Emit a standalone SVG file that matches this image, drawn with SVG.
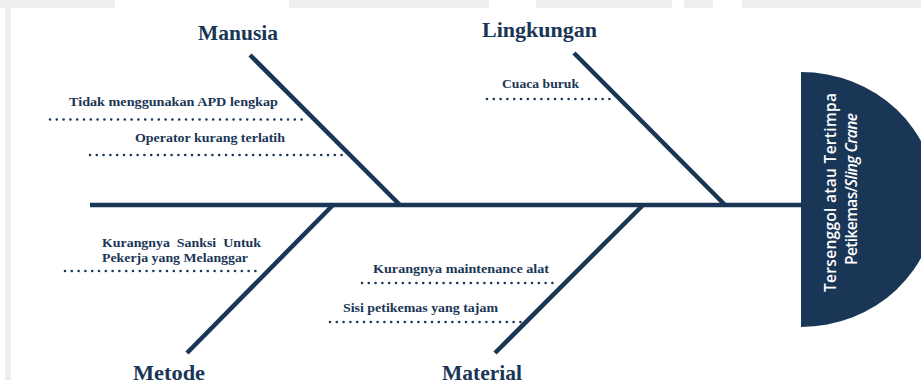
<svg xmlns="http://www.w3.org/2000/svg" width="921" height="385" viewBox="0 0 921 385">
  <style>
    .bone { stroke: #1a3656; stroke-width: 4.5; stroke-linecap: butt; fill: none; }
    .dots { stroke: #1a3656; stroke-width: 2.6; stroke-linecap: round; stroke-dasharray: 0 6.8; fill: none; }
    .title { font-family: "Liberation Serif", "DejaVu Serif", serif; font-weight: bold; font-size: 21px; fill: #1a3656; }
    .cause { font-family: "Liberation Serif", "DejaVu Serif", serif; font-weight: bold; font-size: 13px; fill: #1a3656; white-space: pre; }
    .head { font-family: "Open Sans", "Noto Sans", sans-serif; font-weight: 600; font-size: 15.5px; fill: #ffffff; }
  </style>
  <rect x="0" y="0" width="921" height="385" fill="#ffffff"/>
  <g id="watermark" fill="#eeeeee">
    <rect x="0" y="0" width="115" height="8"/>
    <rect x="289" y="0" width="200" height="8"/>
    <rect x="536" y="0" width="136" height="8"/>
    <rect x="684" y="0" width="29" height="8"/>
    <rect x="742" y="0" width="179" height="8"/>
    <rect x="5" y="8" width="6" height="372"/>
  </g>
  <g id="connectors">
    <line class="bone" x1="90" y1="205" x2="803" y2="205" stroke-width="5"/>
    <line class="bone" x1="250" y1="55" x2="400" y2="205"/>
    <line class="bone" x1="574" y1="53" x2="725" y2="205"/>
    <line class="bone" x1="333" y1="205" x2="187" y2="353"/>
    <line class="bone" x1="643" y1="205" x2="495" y2="353"/>
    <line class="dots" x1="50" y1="119.5" x2="302" y2="119.5"/>
    <line class="dots" x1="90" y1="155" x2="342" y2="155"/>
    <line class="dots" x1="487" y1="99" x2="614" y2="99"/>
    <line class="dots" x1="65" y1="271" x2="262" y2="271"/>
    <line class="dots" x1="362" y1="283" x2="559" y2="283"/>
    <line class="dots" x1="330" y1="322" x2="522" y2="322"/>
  </g>
  <g id="head">
    <path d="M801,72 A135,127.5 0 0 1 801,327 Z" fill="#1a3656"/>
    <text class="head" text-anchor="middle" textLength="199" lengthAdjust="spacing" transform="translate(836,192.5) rotate(-90)">Tersenggol atau Tertimpa</text>
    <text class="head" text-anchor="middle" textLength="152" lengthAdjust="spacing" transform="translate(857,189) rotate(-90)">Petikemas/<tspan font-style="italic">Sling Crane</tspan></text>
  </g>
  <g id="manusia">
    <text class="title" x="198" y="40" textLength="80" lengthAdjust="spacingAndGlyphs">Manusia</text>
    <text class="cause" x="69" y="106" textLength="209" lengthAdjust="spacingAndGlyphs">Tidak menggunakan APD lengkap</text>
    <text class="cause" x="135" y="142" textLength="150" lengthAdjust="spacingAndGlyphs">Operator kurang terlatih</text>
  </g>
  <g id="lingkungan">
    <text class="title" x="482" y="37" textLength="115" lengthAdjust="spacingAndGlyphs">Lingkungan</text>
    <text class="cause" x="502" y="88" textLength="77" lengthAdjust="spacingAndGlyphs">Cuaca buruk</text>
  </g>
  <g id="metode">
    <text class="title" x="133" y="380" textLength="72" lengthAdjust="spacingAndGlyphs">Metode</text>
    <text class="cause" x="102" y="247" textLength="159" lengthAdjust="spacingAndGlyphs">Kurangnya  Sanksi  Untuk</text>
    <text class="cause" x="102" y="262" textLength="146" lengthAdjust="spacingAndGlyphs">Pekerja yang Melanggar</text>
  </g>
  <g id="material">
    <text class="title" x="442" y="380" textLength="80" lengthAdjust="spacingAndGlyphs">Material</text>
    <text class="cause" x="373" y="273" textLength="176" lengthAdjust="spacingAndGlyphs">Kurangnya maintenance alat</text>
    <text class="cause" x="343" y="312" textLength="155" lengthAdjust="spacingAndGlyphs">Sisi petikemas yang tajam</text>
  </g>
</svg>
